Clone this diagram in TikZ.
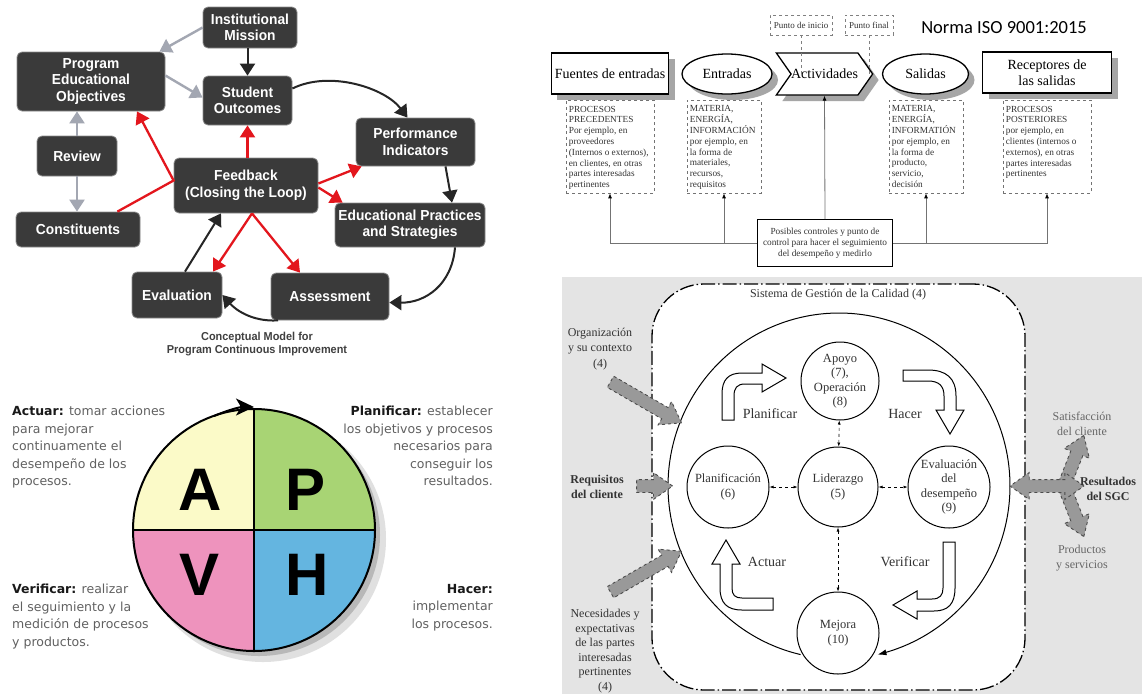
\documentclass[tikz,border=0pt]{standalone}
\usepackage{fontspec}
\setmainfont{Liberation Serif}
\newfontfamily\boxfont[FakeStretch=0.95]{Liberation Sans}
\newfontfamily\letterfont{Liberation Sans}
\newfontfamily\pdcafont{DejaVu Sans}
\newfontfamily\normafont{Carlito}
\usetikzlibrary{arrows.meta,shapes,shadows,positioning}

\definecolor{boxgray}{HTML}{3A3A3A}
\definecolor{edgegray}{HTML}{8C8C8C}
\definecolor{linkgray}{HTML}{A3A7B2}
\definecolor{loopred}{HTML}{E3161D}
\definecolor{actyellow}{HTML}{FBFAC8}
\definecolor{plangreen}{HTML}{A8D474}
\definecolor{verpink}{HTML}{EE93BD}
\definecolor{hacblue}{HTML}{64B5E0}
\definecolor{isogray}{HTML}{E4E4E4}
\definecolor{inkgray}{HTML}{333333}

\begin{document}
\begin{tikzpicture}[x=1pt,y=-1pt]
\useasboundingbox (0,0) rectangle (1142,694);
\fill[white] (0,0) rectangle (1142,694);

%% ---------- continuous improvement model ----------
\tikzstyle{cbox}=[draw=edgegray,line width=0.8pt,fill=boxgray,rounded corners=5pt,text=white,font=\boxfont\bfseries\fontsize{14.5}{16.5}\selectfont,align=center,inner sep=2pt]
\tikzstyle{greyarr}=[draw=linkgray,line width=2.4pt,-{Triangle[length=12pt,width=15pt]}]
\tikzstyle{blackarr}=[draw=black!85,line width=2pt,-{Triangle[length=12pt,width=15pt]}]
\tikzstyle{redarr}=[draw=loopred,line width=2.3pt,-{Triangle[length=12pt,width=15pt]}]

\path (250,27.5) node[cbox,minimum width=94pt,minimum height=41pt] (mission) {Institutional\\Mission};
\path (91,81.5) node[cbox,minimum width=148pt,minimum height=59pt] (objectives) {Program\\Educational\\Objectives};
\path (247.5,100.5) node[cbox,minimum width=89pt,minimum height=49pt] (outcomes) {Student\\Outcomes};
\path (415.5,142) node[cbox,minimum width=119pt,minimum height=48pt] (indicators) {Performance\\Indicators};
\path (77,156) node[cbox,minimum width=80pt,minimum height=40pt] (review) {Review};
\path (246,185.5) node[cbox,minimum width=144pt,minimum height=55pt] (feedback) {Feedback\\(Closing the Loop)};
\path (78,229.5) node[cbox,minimum width=124pt,minimum height=35pt] (constituents) {Constituents};
\path (410,225) node[cbox,minimum width=150pt,minimum height=44pt] (practices) {Educational Practices\\and Strategies};
\path (177,295) node[cbox,minimum width=90pt,minimum height=46pt] (evaluation) {Evaluation};
\path (330,296.5) node[cbox,minimum width=118pt,minimum height=47pt] (assessment) {Assessment};
\path (257,344.5) node[font=\boxfont\bfseries\fontsize{11.5}{13}\selectfont,text=black!75,align=center] (caption) {Conceptual Model for\\Program Continuous Improvement};

% grey links
\draw[greyarr] (mission.west) -- ([xshift=-6pt]objectives.north east);
\draw[greyarr] ([yshift=6pt]objectives.east) -- ([yshift=3pt]outcomes.west);
\draw[greyarr] (review.north) -- (review.north |- objectives.south);
\draw[greyarr] (review.south) -- (review.south |- constituents.north);
% the loop
\draw[blackarr] (outcomes.north |- mission.south) -- (outcomes.north);
\draw[blackarr] ([yshift=12pt]outcomes.east) .. controls (330,70) and (385,88) .. ([xshift=-8pt]indicators.north);
\draw[blackarr] ([xshift=30pt]indicators.south) -- ([xshift=42pt]practices.north);
\draw[blackarr] ([xshift=45pt]practices.south) .. controls (452,285) and (425,303) .. ([yshift=-6pt]assessment.east);
\draw[blackarr] ([xshift=-52pt]assessment.south) .. controls (250,322) and (234,308) .. (evaluation.east);
\draw[blackarr] ([xshift=8pt]evaluation.north) -- ([xshift=-25pt]feedback.south);
% feedback
\draw[redarr] (outcomes.south |- feedback.north) -- (outcomes.south);
\draw[redarr] ([xshift=-23pt]constituents.north east) -- ([yshift=5pt]feedback.west) -- ([xshift=46pt]objectives.south);
\draw[redarr] ([yshift=2pt]feedback.east) -- ([xshift=6pt]indicators.south west);
\draw[redarr] ([yshift=-2pt]feedback.east) -- ([xshift=8pt]practices.north west);
\draw[redarr] ([xshift=6pt]feedback.south) -- ([xshift=36pt]evaluation.north);
\draw[redarr] ([xshift=6pt]feedback.south) -- ([xshift=-30pt]assessment.north);

%% ---------- ISO process ----------
\tikzstyle{headbox}=[draw,line width=1.3pt,fill=white,font=\fontsize{14}{16}\selectfont,align=center,drop shadow={shadow xshift=6pt,shadow yshift=-6pt,fill=black!35,opacity=1}]
\tikzstyle{notebox}=[draw=black!55,dashed,line width=0.7pt,minimum height=93pt]
\tikzstyle{notetext}=[anchor=north west,align=left,inner sep=3pt,font=\fontsize{9.3}{10.8}\selectfont,text=inkgray]
\tikzstyle{pointbox}=[draw=black!50,dashed,line width=0.6pt,minimum height=20pt,inner sep=1pt,font=\fontsize{9}{10}\selectfont,text=inkgray]
\tikzstyle{ctrlarr}=[draw=black!55,line width=0.8pt,-{Latex[length=5pt,width=4pt,color=black]}]

\path (1004,28) node[font=\normafont\fontsize{18.5}{20}\selectfont] (norma) {Norma ISO 9001:2015};
\path (801,25) node[pointbox,minimum width=62pt] (startpt) {Punto de inicio};
\path (869,25) node[pointbox,minimum width=48pt] (endpt) {Punto final};

\path (610,73.5) node[headbox,minimum width=116pt,minimum height=41pt] (sources) {Fuentes de entradas};
\path (727,74) node[headbox,ellipse,minimum width=90pt,minimum height=40pt] (inputs) {Entradas};
\path (824.5,74) node[headbox,signal,signal to=east,signal from=west,signal pointer angle=110,minimum width=87pt,minimum height=42pt,inner sep=0pt] (activities) {Actividades};
\path (925.5,74) node[headbox,ellipse,minimum width=86pt,minimum height=40pt] (outputs) {Salidas};
\path (1047,72.5) node[headbox,minimum width=129pt,minimum height=41pt] (receivers) {Receptores de\\las salidas};

\draw[dashed,black!50,line width=0.6pt] (startpt.south) -- (startpt.south |- activities.center);
\draw[dashed,black!50,line width=0.6pt] (endpt.south) -- (endpt.south |- activities.center);

\path (610,146.5) node[notebox,minimum width=88pt] (sourcesNote) {};
\path (724,146.5) node[notebox,minimum width=74pt] (inputsNote) {};
\path (926,146.5) node[notebox,minimum width=74pt] (outputsNote) {};
\path (1047,146.5) node[notebox,minimum width=88pt] (receiversNote) {};
\path ([yshift=-3pt]sourcesNote.north west) node[notetext] (sourcesText) {PROCESOS\\PRECEDENTES\\Por ejemplo, en\\proveedores\\(Internos o externos),\\en clientes, en otras\\partes interesadas\\pertinentes};
\path ([yshift=-3pt]inputsNote.north west) node[notetext] (inputsText) {MATERIA,\\ENERGÍA,\\INFORMACIÓN\\por ejemplo, en\\la forma de\\materiales,\\recursos,\\requisitos};
\path ([yshift=-3pt]outputsNote.north west) node[notetext] (outputsText) {MATERIA,\\ENERGÍA,\\INFORMATIÓN\\por ejemplo, en\\la forma de\\producto,\\servicio,\\decisión};
\path ([yshift=-3pt]receiversNote.north west) node[notetext] (receiversText) {PROCESOS\\POSTERIORES\\por ejemplo, en\\clientes (internos o\\externos), en otras\\partes interesadas\\pertinentes};

\path (825,243) node[draw,line width=1pt,fill=white,minimum width=135pt,minimum height=47pt,align=center,inner sep=1pt,font=\fontsize{9.3}{11}\selectfont,text=inkgray] (control) {Posibles controles y punto de\\control para hacer el seguimiento\\del desempeño y medirlo};

\foreach \n in {sourcesNote,inputsNote}
   \draw[ctrlarr] (control.west) -| (\n.south);
\foreach \n in {outputsNote,receiversNote}
   \draw[ctrlarr] (control.east) -| (\n.south);
\draw[ctrlarr] (control.north) -- (activities.south);

%% ---------- PDCA circle ----------
\tikzstyle{pdcatext}=[font=\pdcafont\fontsize{12.5}{17.5}\selectfont,text=black!62,inner sep=0pt]
\tikzstyle{bigletter}=[font=\letterfont\bfseries\fontsize{60}{60}\selectfont]

\fill[black!12] (263,539) circle (123);
\fill[black!28] (259,535) circle (121);
\foreach \a/\c in {180/actyellow,270/plangreen,0/hacblue,90/verpink}
   \fill[\c] (254,530) -- ++(\a:121) arc[start angle=\a,end angle=\a+90,radius=121] -- cycle;
\path (254,530) node[circle,draw,line width=2pt,minimum size=242pt] (pdca) {};
\draw[line width=2pt] (pdca.west) -- (pdca.east);
\draw[line width=2pt] (pdca.north) -- (pdca.south);
\draw[line width=2pt,-{Stealth[length=18pt,width=17pt,inset=5pt]}] (214,416) .. controls (228,410) and (240,407) .. (254,407);

\path (200,490) node[bigletter] (letterA) {A};
\path (306,490) node[bigletter] (letterP) {P};
\path (200,575) node[bigletter] (letterV) {V};
\path (307,575) node[bigletter] (letterH) {H};

\path (12,406) node[pdcatext,anchor=north west,align=left] (actText) {\textbf{\color{black!90}Actuar:} tomar acciones\\para mejorar\\continuamente el\\desempeño de los\\procesos.};
\path (493,406) node[pdcatext,anchor=north east,align=right] (planText) {\textbf{\color{black!90}Planificar:} establecer\\los objetivos y procesos\\necesarios para\\conseguir los\\resultados.};
\path (12,584) node[pdcatext,anchor=north west,align=left] (verText) {\textbf{\color{black!90}Verificar:} realizar\\el seguimiento y la\\medición de procesos\\y productos.};
\path (493,584) node[pdcatext,anchor=north east,align=right] (hacText) {\textbf{\color{black!90}Hacer:}\\implementar\\los procesos.};

%% ---------- quality management system ----------
\tikzstyle{proc}=[circle,draw,line width=1pt,fill=white,align=center,inner sep=0pt,font=\fontsize{12.5}{14.5}\selectfont,text=inkgray]
\tikzstyle{cyclearr}=[draw,line width=1pt,fill=white]
\tikzstyle{linkarr}=[dashed,line width=0.6pt,{Latex[length=4pt,width=3pt]}-{Latex[length=4pt,width=3pt]}]
\tikzstyle{sgcarr}=[draw=black!70,dashed,line width=0.9pt,fill=black!40,inner sep=6pt]
\tikzstyle{inarr}=[sgcarr,single arrow,single arrow head extend=7pt,single arrow tip angle=70]
\tikzstyle{sidetext}=[align=center,font=\fontsize{12}{15.5}\selectfont,text=inkgray]
\tikzstyle{steplabel}=[font=\fontsize{14}{16}\selectfont,text=inkgray]

\fill[isogray] (562,277) rectangle (1142,694);
\path (838.5,487) node[draw,fill=white,line width=1.3pt,dash pattern=on 14pt off 3pt on 1.5pt off 3pt,rounded corners=52pt,minimum width=373pt,minimum height=406pt] (sgc) {};
\path (838,295) node[font=\fontsize{12}{14}\selectfont,text=inkgray] (sgcLabel) {Sistema de Gestión de la Calidad (4)};

\draw[line width=1pt,-{Latex[length=9pt,width=6pt]}] plot[smooth,domain=103:437,samples=120] ({839+171*cos(\x)},{486+173*sin(\x)});

\path (840,381) node[proc,minimum size=78pt] (support) {Apoyo\\(7),\\Operación\\(8)};
\path (728,487) node[proc,minimum size=82pt] (planning) {Planificación\\(6)};
\path (838,487) node[proc,minimum size=80pt] (leadership) {Liderazgo\\(5)};
\path (949,487) node[proc,minimum size=82pt] (performance) {Evaluación\\del\\desempeño\\(9)};
\path (838,633) node[proc,minimum size=82pt] (improvement) {Mejora\\(10)};

\foreach \n in {planning,performance,support,improvement}
   \draw[linkarr] (leadership) -- (\n);

% P-H-V-A arrows
\draw[cyclearr] (722,420) -- (722,394) .. controls (722,380) and (728,373) .. (742,373) -- (762,373) -- (762,364) -- (786,378) -- (762,392) -- (762,384) -- (745,384) .. controls (737,384) and (734,388) .. (734,396) -- (734,420) -- cycle;
\draw[cyclearr] (903,370) -- (928,370) .. controls (946,370) and (956,378) .. (956,396) -- (956,410) -- (964,410) -- (950,434) -- (936,410) -- (944,410) -- (944,396) .. controls (944,386) and (939,381) .. (928,381) -- (903,381) -- cycle;
\draw[cyclearr] (943,542) -- (955,542) -- (955,588) .. controls (955,604) and (948,611) .. (934,611) -- (917,611) -- (917,619) -- (893,605) -- (917,591) -- (917,599) -- (932,599) .. controls (940,599) and (943,595) .. (943,588) -- cycle;
\draw[cyclearr] (773,598) -- (773,610) -- (742,610) .. controls (727,610) and (720,603) .. (720,588) -- (720,564) -- (712,564) -- (726,540) -- (740,564) -- (732,564) -- (732,588) .. controls (732,595) and (735,598) .. (742,598) -- cycle;

\path (770,414) node[steplabel] (planLabel) {Planificar};
\path (905,414) node[steplabel] (doLabel) {Hacer};
\path (767,562) node[steplabel] (actLabel) {Actuar};
\path (905,562) node[steplabel] (checkLabel) {Verificar};

% inputs and results
\path (642,400) node[inarr,minimum height=82pt,rotate=-30] (contextArrow) {};
\path (642,574) node[inarr,minimum height=82pt,rotate=30] (needsArrow) {};
\path (650,486) node[inarr,minimum height=36pt] (reqArrow) {};
\path (1073,463) node[inarr,minimum height=50pt,rotate=68.6] (satArrow) {};
\path (1073,509) node[inarr,minimum height=50pt,rotate=-68.6] (prodArrow) {};
\path (1047,486) node[sgcarr,double arrow,double arrow head extend=7pt,double arrow tip angle=70,minimum height=74pt] (resArrow) {};

\path (600,349) node[sidetext] (contextText) {Organización\\y su contexto\\(4)};
\path (597,487) node[sidetext,font=\bfseries\fontsize{12}{15.5}\selectfont] (reqText) {Requisitos\\del cliente};
\path (605,651) node[sidetext,font=\fontsize{12}{14.5}\selectfont] (needsText) {Necesidades y\\expectativas\\de las partes\\interesadas\\pertinentes\\(4)};
\path (1082,424) node[sidetext,text=black!60] (satText) {Satisfacción\\del cliente};
\path (1108,489) node[sidetext,font=\bfseries\fontsize{12}{15.5}\selectfont] (resText) {Resultados\\del SGC};
\path (1082,558) node[sidetext,text=black!60] (prodText) {Productos\\y servicios};
\end{tikzpicture}
\end{document}
